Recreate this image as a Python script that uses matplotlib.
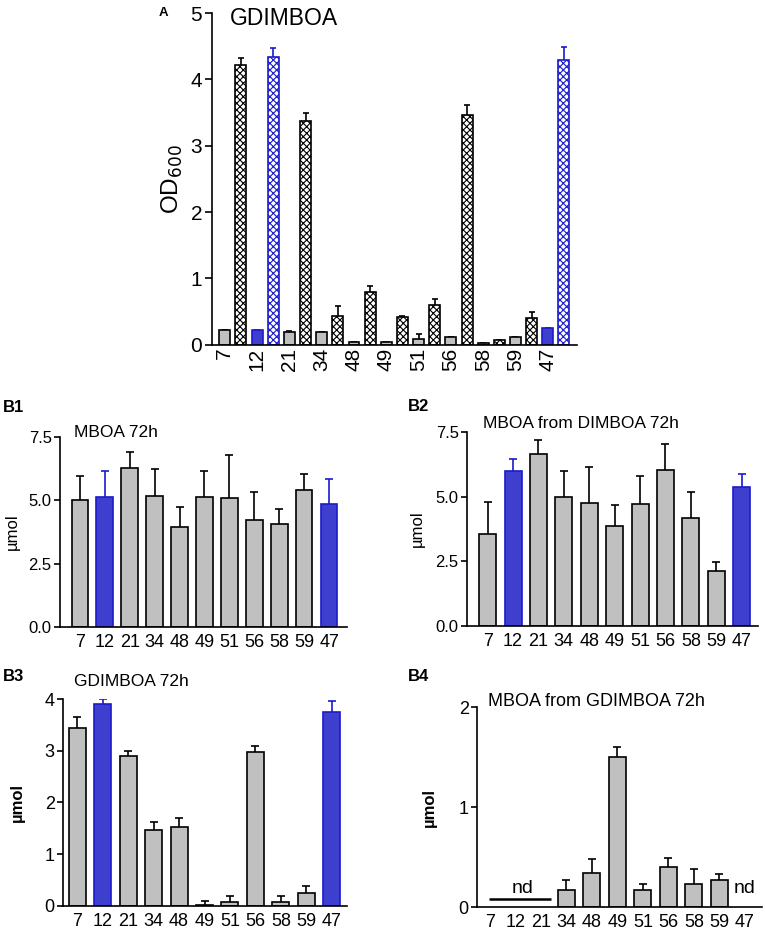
import numpy as np
import matplotlib
matplotlib.use("Agg")
import matplotlib.pyplot as plt

plt.rcParams['font.family'] = ['Liberation Sans', 'DejaVu Sans']
plt.rcParams['hatch.linewidth'] = 0.8

strains = ['7', '12', '21', '34', '48', '49', '51', '56', '58', '59', '47']
blue_strains = ['12', '47']

# Panel A: OD600 (solid = control, hatched = with GDIMBOA)
a_solid = [0.23, 0.22, 0.20, 0.19, 0.05, 0.05, 0.085, 0.125, 0.035, 0.125, 0.25]
a_solid_err = [0.0, 0.01, 0.01, 0.01, 0.0, 0.0, 0.08, 0.0, 0.0, 0.0, 0.01]
a_hatch = [4.21, 4.34, 3.38, 0.44, 0.80, 0.42, 0.60, 3.47, 0.07, 0.40, 4.29]
a_hatch_err = [0.11, 0.13, 0.12, 0.15, 0.09, 0.02, 0.09, 0.14, 0.0, 0.09, 0.20]

b1_mean = [5.03, 5.13, 6.28, 5.17, 3.93, 5.13, 5.08, 4.21, 4.07, 5.41, 4.84]
b1_err = [0.92, 1.01, 0.63, 1.05, 0.81, 1.01, 1.72, 1.11, 0.59, 0.62, 1.00]
b2_mean = [3.55, 5.99, 6.63, 5.00, 4.76, 3.87, 4.71, 6.04, 4.16, 2.13, 5.37]
b2_err = [1.26, 0.46, 0.57, 1.00, 1.37, 0.80, 1.09, 0.98, 1.02, 0.34, 0.52]
b3_mean = [3.43, 3.90, 2.89, 1.46, 1.53, 0.026, 0.07, 2.98, 0.07, 0.26, 3.74]
b3_err = [0.22, 0.10, 0.10, 0.16, 0.17, 0.07, 0.12, 0.12, 0.12, 0.13, 0.23]
nan = float('nan')
b4_mean = [nan, nan, nan, 0.167, 0.337, 1.50, 0.167, 0.397, 0.227, 0.267, nan]
b4_err = [nan, nan, nan, 0.106, 0.143, 0.097, 0.06, 0.096, 0.156, 0.06, nan]
b4_nd = ['7', '12', '21', '47']
nd_level = 0.077

GREY = '#c0c0c0'
BLUE_FILL = '#3f3fcf'
BLUE_EDGE = '#1a1acc'

fig = plt.figure(figsize=(7.65, 9.32), dpi=100)


def style(ax):
    ax.spines['top'].set_visible(False)
    ax.spines['right'].set_visible(False)
    ax.spines['left'].set_linewidth(1.2)
    ax.spines['bottom'].set_linewidth(1.2)
    ax.tick_params(axis='x', length=0, pad=5)
    ax.tick_params(axis='y', length=4, width=1.2, direction='out', pad=2)


def upper_err(ax, x, y, e, color, capsize=3):
    y = np.asarray(y, float)
    e = np.asarray(e, float)
    _, caps, _ = ax.errorbar(x, y, yerr=[np.zeros_like(e), e], fmt='none',
                             ecolor=color, elinewidth=1.2, capsize=capsize,
                             capthick=1.2, zorder=1)
    caps[0].set_visible(False)


# ---------- Panel A ----------
axA = fig.add_axes([0.277, 0.630, 0.477, 0.356])
style(axA)
idx = np.arange(len(strains))
for i, s in enumerate(strains):
    isblue = s in blue_strains
    fc = BLUE_FILL if isblue else GREY
    ec = BLUE_EDGE if isblue else 'black'
    xs = 2 * i
    xh = 2 * i + 1
    axA.bar(xs, a_solid[i], width=0.68, color=fc, edgecolor=ec, linewidth=1.2, zorder=2)
    axA.bar(xh, a_hatch[i], width=0.68, color='white', edgecolor=ec, hatch='xxxxx',
            linewidth=1.2, zorder=2)
    upper_err(axA, [xs], [a_solid[i]], [a_solid_err[i]], ec, capsize=2.5)
    upper_err(axA, [xh], [a_hatch[i]], [a_hatch_err[i]], ec, capsize=2.5)
axA.set_xlim(-0.8, 21.8)
axA.set_ylim(0, 5)
axA.set_yticks([0, 1, 2, 3, 4, 5])
axA.set_xticks(2 * idx)
axA.set_xticklabels(strains, rotation=90, fontsize=15)
axA.tick_params(axis='x', pad=2)
axA.tick_params(axis='y', labelsize=15, length=5)
axA.set_ylabel('OD$_{600}$', fontsize=17.5, labelpad=4)
axA.text(0.05, 0.985, 'GDIMBOA', transform=axA.transAxes, fontsize=16.5,
         va='center', ha='left')
fig.text(0.208, 0.986, 'A', fontsize=9.5, fontweight='bold', va='center', ha='left')


def bpanel(rect, mean, err, ylim, yticks, yfmt, title, title_xy, title_size, ylab_bold,
           ytick_size, xlim, label, label_xy, ylabel_x):
    ax = fig.add_axes(rect)
    style(ax)
    x = np.arange(len(strains))
    for i, s in enumerate(strains):
        if np.isnan(mean[i]):
            continue
        isblue = s in blue_strains
        fc = BLUE_FILL if isblue else GREY
        ec = BLUE_EDGE if isblue else 'black'
        ax.bar(x[i], mean[i], width=0.67, color=fc, edgecolor=ec, linewidth=1.2, zorder=2)
        upper_err(ax, [x[i]], [mean[i]], [err[i]], ec)
    ax.set_xlim(*xlim)
    ax.set_ylim(*ylim)
    ax.set_yticks(yticks)
    ax.set_yticklabels([yfmt.format(v) for v in yticks], fontsize=ytick_size)
    ax.set_xticks(x)
    ax.set_xticklabels(strains, fontsize=13)
    ax.set_ylabel('µmol', fontsize=12, fontweight='bold' if ylab_bold else 'normal')
    ax.yaxis.set_label_coords(ylabel_x, 0.5)
    ax.text(title_xy[0], title_xy[1], title, transform=ax.transAxes, fontsize=title_size,
            va='center', ha='left')
    fig.text(label_xy[0], label_xy[1], label, fontsize=12, fontweight='bold',
             va='center', ha='left')
    return ax


b_ticks = [0.0, 2.5, 5.0, 7.5]
bpanel([0.0784, 0.3272, 0.3752, 0.2039], b1_mean, b1_err, (0, 7.5), b_ticks, '{:.1f}',
       'MBOA 72h', (0.05, 1.026), 12.5, False, 12, (-0.8, 10.72), 'B1', (0.004, 0.563), -0.14)
bpanel([0.6105, 0.3283, 0.3803, 0.2082], b2_mean, b2_err, (0, 7.5), b_ticks, '{:.1f}',
       'MBOA from DIMBOA 72h', (0.055, 1.046), 12.5, False, 12, (-0.81, 10.64), 'B2',
       (0.533, 0.564), -0.144)
bpanel([0.0824, 0.0279, 0.3712, 0.2221], b3_mean, b3_err, (0, 4), [0, 1, 2, 3, 4], '{:d}',
       'GDIMBOA 72h', (0.04, 1.083), 12.5, True, 13, (-0.56, 10.6), 'B3', (0.004, 0.274),
       -0.134)
ax4 = bpanel([0.6235, 0.0268, 0.3725, 0.2146], b4_mean, b4_err, (0, 2), [0, 1, 2], '{:d}',
             'MBOA from GDIMBOA 72h', (0.04, 1.03), 13, True, 13, (-0.51, 10.67), 'B4',
             (0.533, 0.274), -0.14)
nd_idx = [strains.index(s) for s in b4_nd]
ax4.hlines(nd_level, nd_idx[0] - 0.05, nd_idx[2] + 0.4, color='black', linewidth=1.8)
ax4.text((nd_idx[0] + nd_idx[2]) / 2 + 0.3, nd_level + 0.02, 'nd', fontsize=14,
         ha='center', va='bottom')
ax4.text(nd_idx[3], nd_level + 0.02, 'nd', fontsize=14, ha='center', va='bottom')

fig.savefig('out.png', dpi=100)
